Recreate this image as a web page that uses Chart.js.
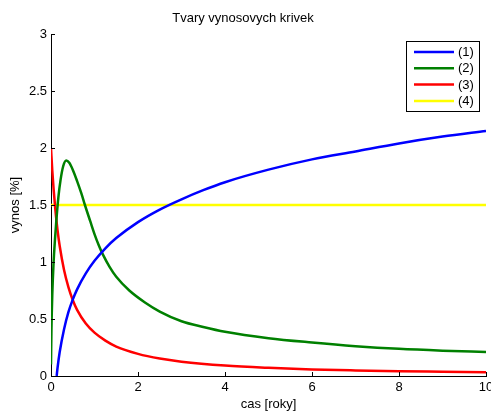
<!DOCTYPE html>
<html lang="cs">
<head>
    <meta charset="UTF-8">
    <script src="https://cdn.jsdelivr.net/npm/chart.js"></script>
    <title>Tvary vynosovych krivek</title>
</head>
<style>
    body { margin: 0; background: #fff; }
    canvas { display: block; }
</style>
<body>
    <canvas id="krivky" width="491" height="412"></canvas>
</body>
<script>
    // casy [roky] a vynosy [%] jednotlivych krivek
    const cas1 = [0.13, 0.15, 0.2, 0.3, 0.4, 0.5, 0.6, 0.8, 1, 1.25, 1.5, 2, 2.5, 3, 3.5, 4, 5, 6, 7, 8, 9, 10];
    const vynos1 = [0, 0.07, 0.21, 0.41, 0.56, 0.67, 0.76, 0.90, 1.01, 1.12, 1.21, 1.35, 1.46, 1.55, 1.63, 1.70, 1.81, 1.90, 1.97, 2.04, 2.10, 2.15];

    const cas2 = [0, 0.01, 0.03, 0.06, 0.09, 0.12, 0.17, 0.22, 0.28, 0.35, 0.42, 0.5, 0.6, 0.7, 0.78, 0.9, 1.0, 1.1, 1.2, 1.35, 1.5, 1.8, 2.16, 2.5, 3, 3.5, 4, 5, 6, 7, 8, 9, 10];
    const vynos2 = [0.10, 0.40, 0.72, 1.00, 1.19, 1.35, 1.57, 1.72, 1.84, 1.89, 1.87, 1.81, 1.71, 1.60, 1.50, 1.36, 1.245, 1.145, 1.06, 0.955, 0.87, 0.75, 0.645, 0.565, 0.48, 0.43, 0.388, 0.332, 0.294, 0.262, 0.238, 0.222, 0.21];

    const cas3 = [0, 0.03, 0.06, 0.1, 0.15, 0.2, 0.3, 0.4, 0.5, 0.6, 0.8, 1, 1.25, 1.5, 2, 2.5, 3, 4, 5, 6, 7, 8, 9, 10];
    const vynos3 = [2.0, 1.80, 1.64, 1.46, 1.28, 1.14, 0.93, 0.78, 0.667, 0.58, 0.46, 0.38, 0.31, 0.258, 0.194, 0.153, 0.126, 0.092, 0.072, 0.058, 0.049, 0.042, 0.037, 0.032];

    const cas4 = [0, 10];
    const vynos4 = [1.5, 1.5];

    const popisky = ['(1)', '(2)', '(3)', '(4)'];
    const barvy = ['#0000ff', '#008000', '#ff0000', '#ffff00'];

    const xTicks = [0, 2, 4, 6, 8, 10];
    const yTicks = [0, 0.5, 1, 1.5, 2, 2.5, 3];

    const pismo = '"Liberation Sans", Arial, Helvetica, sans-serif';
    Chart.defaults.font.family = pismo;
    Chart.defaults.font.size = 13;
    Chart.defaults.color = '#000';

    function body(xs, ys) {
        return xs.map((x, i) => ({ x: x, y: ys[i] }));
    }

    function serie(i, xs, ys) {
        return {
            label: popisky[i],
            data: body(xs, ys),
            borderColor: barvy[i],
            backgroundColor: barvy[i],
            borderWidth: 2.5,
            pointRadius: 0,
            cubicInterpolationMode: 'monotone',
            fill: false
        };
    }

    // tiky smerem dovnitr grafu (jako v matlabu)
    const vnitrniTiky = {
        id: 'vnitrniTiky',
        afterDatasetsDraw(chart) {
            const ctx = chart.ctx;
            const a = chart.chartArea;
            ctx.save();
            ctx.strokeStyle = '#000';
            ctx.lineWidth = 1;
            ctx.beginPath();
            chart.scales.x.ticks.forEach(t => {
                const px = Math.round(chart.scales.x.getPixelForValue(t.value)) + 0.5;
                ctx.moveTo(px, a.bottom);
                ctx.lineTo(px, a.bottom - 4);
            });
            chart.scales.y.ticks.forEach(t => {
                const py = Math.round(chart.scales.y.getPixelForValue(t.value)) + 0.5;
                ctx.moveTo(a.left, py);
                ctx.lineTo(a.left + 4, py);
            });
            ctx.stroke();
            ctx.restore();
        }
    };

    // legenda v ramecku v pravem hornim rohu
    const legendaRamecek = {
        id: 'legendaRamecek',
        afterDraw(chart) {
            const ctx = chart.ctx;
            const a = chart.chartArea;
            const sirka = 73, vyska = 70;
            const x0 = a.right - 80, y0 = a.top + 7;
            ctx.save();
            ctx.fillStyle = '#fff';
            ctx.fillRect(x0, y0, sirka, vyska);
            ctx.strokeStyle = '#000';
            ctx.lineWidth = 1;
            ctx.strokeRect(Math.round(x0) + 0.5, Math.round(y0) + 0.5, sirka, vyska);
            ctx.font = '13px ' + pismo;
            ctx.textBaseline = 'middle';
            ctx.textAlign = 'left';
            chart.data.datasets.forEach((ds, i) => {
                const y = y0 + 11 + i * 16.3;
                ctx.strokeStyle = ds.borderColor;
                ctx.lineWidth = 2.5;
                ctx.beginPath();
                ctx.moveTo(x0 + 8, y);
                ctx.lineTo(x0 + 48, y);
                ctx.stroke();
                ctx.fillStyle = '#000';
                ctx.fillText(ds.label, x0 + 52, y + 0.5);
            });
            ctx.restore();
        }
    };

    new Chart(document.getElementById('krivky').getContext('2d'), {
        type: 'line',
        data: {
            datasets: [
                serie(0, cas1, vynos1),
                serie(1, cas2, vynos2),
                serie(2, cas3, vynos3),
                serie(3, cas4, vynos4)
            ]
        },
        options: {
            responsive: false,
            animation: false,
            layout: { padding: { left: 0, right: 5, top: 0, bottom: 0 } },
            plugins: {
                legend: { display: false },
                tooltip: { enabled: false },
                title: {
                    display: true,
                    text: 'Tvary vynosovych krivek',
                    color: '#000',
                    font: { size: 13, weight: 'normal' },
                    padding: { top: 10.2, bottom: 8.2 }
                }
            },
            scales: {
                x: {
                    type: 'linear',
                    min: 0,
                    max: 10,
                    afterBuildTicks: s => { s.ticks = xTicks.map(v => ({ value: v })); },
                    afterFit: s => { s.height = 36; s.paddingLeft = 0; s.paddingRight = 0; },
                    grid: { display: false, drawTicks: false },
                    border: { display: true, color: '#000', width: 1 },
                    ticks: { padding: 4, maxRotation: 0, callback: v => String(v) },
                    title: { display: true, text: 'cas [roky]', padding: { top: 0, bottom: 0 } }
                },
                y: {
                    min: 0,
                    max: 3,
                    afterBuildTicks: s => { s.ticks = yTicks.map(v => ({ value: v })); },
                    afterFit: s => { s.width = 51; },
                    grid: { display: false, drawTicks: false },
                    border: { display: true, color: '#000', width: 1 },
                    ticks: { padding: 4, callback: v => String(v) },
                    title: { display: true, text: 'vynos [%]', padding: { top: 8, bottom: 0 } }
                }
            }
        },
        plugins: [vnitrniTiky, legendaRamecek]
    });
</script>
</html>
